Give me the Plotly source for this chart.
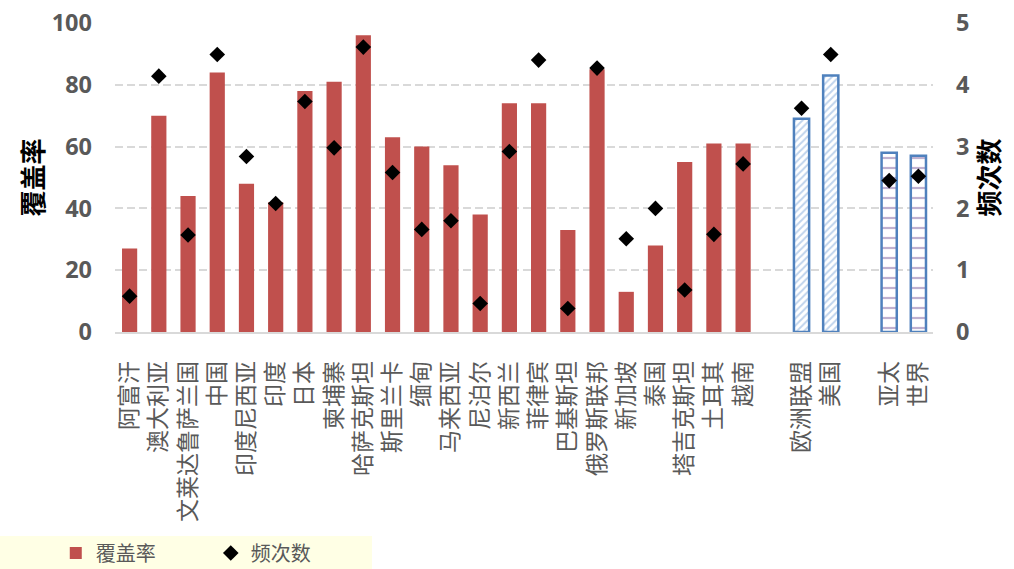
import plotly.graph_objects as go

# Country-level coverage (%) and frequency
countries = ["阿富汗", "澳大利亚", "文莱达鲁萨兰国", "中国", "印度尼西亚", "印度", "日本",
             "柬埔寨", "哈萨克斯坦", "斯里兰卡", "缅甸", "马来西亚", "尼泊尔", "新西兰",
             "菲律宾", "巴基斯坦", "俄罗斯联邦", "新加坡", "泰国", "塔吉克斯坦", "土耳其", "越南"]
coverage = [27, 70, 44, 84, 48, 42, 78, 81, 96, 63, 60, 54, 38, 74, 74, 33, 85, 13, 28, 55, 61, 61]
frequency = [0.58, 4.14, 1.57, 4.49, 2.84, 2.08, 3.73, 2.98, 4.61, 2.58, 1.66, 1.80, 0.46, 2.92,
             4.40, 0.38, 4.27, 1.51, 2.00, 0.68, 1.58, 2.72]

# Comparison economies
benchmarks = ["欧洲联盟", "美国"]
bench_coverage = [69, 83]
bench_frequency = [3.62, 4.49]

# Regional / global averages
regions = ["亚太", "世界"]
region_coverage = [58, 57]
region_frequency = [2.45, 2.52]

# Category order with blank spacer slots between the groups
category_order = countries + [" "] + benchmarks + ["  "] + regions

RED = "#C0504D"
BLUE = "#4F81BD"
GRAY_TXT = "#595959"
CJK = "Noto Sans CJK SC"

fig = go.Figure()

fig.add_trace(go.Bar(
    x=countries, y=coverage, name="覆盖率",
    marker=dict(color=RED, line=dict(width=0)),
    width=0.52,
))
fig.add_trace(go.Bar(
    x=benchmarks, y=bench_coverage, name="覆盖率", showlegend=False,
    width=0.52,
    marker=dict(color="white", line=dict(color=BLUE, width=2.5),
                pattern=dict(shape="/", fgcolor="#7FA7DA", bgcolor="white",
                             size=5, solidity=0.4)),
))
fig.add_trace(go.Bar(
    x=regions, y=region_coverage, name="覆盖率", showlegend=False,
    width=0.52,
    marker=dict(color="white", line=dict(color=BLUE, width=2.5),
                pattern=dict(shape="-", fgcolor="#8064A2", bgcolor="white",
                             size=10, solidity=0.22)),
))
fig.add_trace(go.Scatter(
    x=countries + benchmarks + regions,
    y=frequency + bench_frequency + region_frequency,
    name="频次数", mode="markers", yaxis="y2",
    marker=dict(symbol="diamond", size=12, color="black"),
))

# Pale legend backdrop
fig.add_shape(type="rect", xref="paper", yref="paper",
              x0=-0.1406, x1=0.3142, y0=-0.767, y1=-0.660,
              fillcolor="#FFFFE5", line=dict(width=0), layer="below")

fig.update_layout(
    width=1014, height=569,
    margin=dict(l=115, r=81, t=23, b=237, autoexpand=False),
    paper_bgcolor="white", plot_bgcolor="white",
    barmode="overlay",
    showlegend=True,
    legend=dict(orientation="h", xref="container", yref="container",
                x=0.055, xanchor="left", y=0.028, yanchor="middle",
                bgcolor="rgba(0,0,0,0)", font=dict(family=CJK, size=20, color=GRAY_TXT),
                itemwidth=30,
                entrywidth=110, entrywidthmode="pixels", traceorder="normal"),
    xaxis=dict(
        type="category", categoryorder="array", categoryarray=category_order,
        range=[-0.5, len(category_order) - 0.5],
        showgrid=False, showline=True, linecolor="#D9D9D9", linewidth=1.5,
        ticks="", tickangle=-90, ticklabelstandoff=18,
        tickfont=dict(family=CJK, size=23, color=GRAY_TXT),
        zeroline=False,
    ),
    yaxis=dict(
        range=[0, 100], dtick=20, showgrid=True, gridcolor="#D9D9D9", gridwidth=1.5,
        griddash="8px,4px", zeroline=False, showline=False, ticks="",
        ticklabelstandoff=22,
        tickfont=dict(family="Open Sans", size=23.5, color=GRAY_TXT, weight="bold"),
        title=dict(text="覆盖率", standoff=0,
                   font=dict(family=CJK, size=26, color="black", weight="bold")),
    ),
    yaxis2=dict(
        range=[0, 5], dtick=1, overlaying="y", side="right", showgrid=False,
        zeroline=False, showline=False, ticks="", ticklabelstandoff=22,
        tickfont=dict(family="Open Sans", size=23.5, color=GRAY_TXT, weight="bold"),
        title=dict(text="频次数", standoff=4,
                   font=dict(family=CJK, size=26, color="black", weight="bold")),
    ),
)

fig.write_html("out.html")
